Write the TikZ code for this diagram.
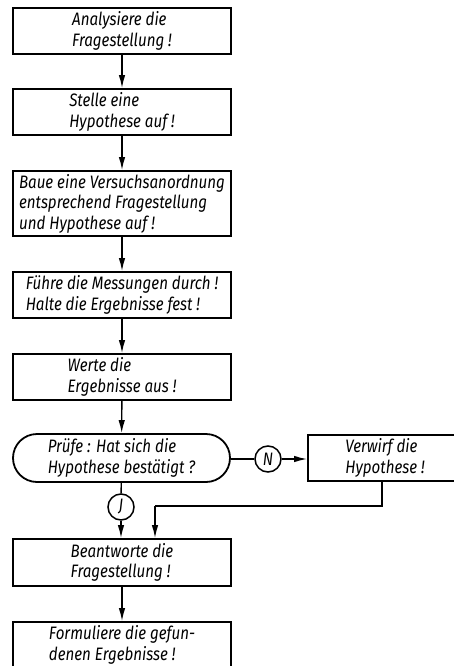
\documentclass[tikz,border=0pt]{standalone}
\usepackage{fontspec}
\setmainfont{Fira Sans}[FakeStretch=0.84]
\usetikzlibrary{arrows.meta}
\begin{document}
\begin{tikzpicture}[x=1pt,y=-1pt,
  every node/.style={font=\fontsize{18}{20.5}\selectfont\itshape},
  stepbox/.style={draw,line width=1.8pt,minimum width=218pt,minimum height=46pt,align=left,inner sep=0pt},
  decbox/.style={draw,line width=1.8pt,minimum width=217pt,minimum height=48pt,align=left,inner sep=0pt,rounded corners=24pt},
  mark circ/.style={draw,circle,line width=1.5pt,minimum size=26pt,inner sep=0pt},
  conn/.style={line width=1.4pt,-{Latex[length=13pt,width=6.5pt]}},
  plain/.style={line width=1.4pt}]
\clip (0,0) rectangle (454,666);
\fill[white] (0,0) rectangle (454,666);
\node[stepbox] (b1) at (122,31) {Analysiere die\\Fragestellung !};
\node[stepbox] (b2) at (122,112) {Stelle eine\\Hypothese auf !};
\node[stepbox,minimum height=65pt] (b3) at (122,203.5) {Baue eine Versuchsanordnung\\entsprechend Fragestellung\\und Hypothese auf !};
\node[stepbox] (b4) at (122,295) {Führe die Messungen durch !\\Halte die Ergebnisse fest !};
\node[stepbox] (b5) at (122,377) {Werte die\\Ergebnisse aus !};
\node[decbox] (dec) at (121.5,458) {Prüfe : Hat sich die\\Hypothese bestätigt ?};
\node[mark circ] (n) at (268,459) {N};
\node[stepbox,minimum width=154pt] (vw) at (385,458) {Verwirf die\\Hypothese !};
\node[mark circ] (j) at (121,507) {J};
\node[stepbox,minimum height=47pt] (b6) at (122,562.5) {Beantworte die\\Fragestellung !};
\node[stepbox] (b7) at (122,645) {Formuliere die gefun-\\denen Ergebnisse !};
\coordinate (c1) at (382,506);
\coordinate (c2) at (155,506);
\draw[conn] (b1) -- (b2);
\draw[conn] (b2) -- (b3);
\draw[conn] (b3) -- (b4);
\draw[conn] (b4) -- (b5);
\draw[conn] (b5) -- (dec);
\draw[plain] (dec.east |- n) -- (n);
\draw[conn] (n) -- (vw.west |- n);
\draw[plain] (dec) -- (j);
\draw[conn] (j) -- (b6.north -| j);
\draw[plain] (vw.south -| c1) -- (c1) -- (c2);
\draw[conn] (c2) -- (c2 |- b6.north);
\draw[conn] (b6) -- (b7);
\end{tikzpicture}
\end{document}
